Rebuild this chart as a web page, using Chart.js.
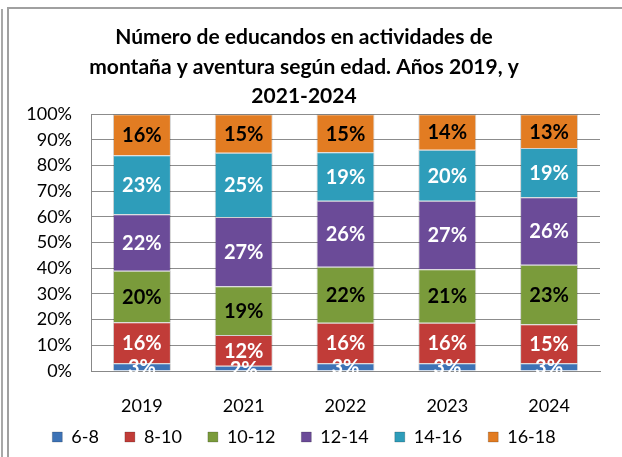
<!DOCTYPE html>
<html>
<head>
<meta charset="utf-8">
<script src="https://cdn.jsdelivr.net/npm/chart.js@4"></script>
<style>
  html, body { margin: 0; padding: 0; background: #fff; }
  #wrap { position: relative; width: 622px; height: 457px; overflow: hidden; }
  #frame { position: absolute; left: 7px; top: 7px; width: 700px; height: 500px; border: 2px solid #a0a0a0; box-sizing: border-box; }
  #edge { position: absolute; left: 1px; top: 9px; width: 2px; height: 460px; background: #a8a8a8; }
  canvas { position: absolute; left: 0; top: 0; }
</style>
</head>
<body>
<div id="wrap">
  <div id="edge"></div>
  <div id="frame"></div>
  <canvas id="chart" width="622" height="457"></canvas>
</div>
<script>
// years on the x axis
var years = ['2019', '2021', '2022', '2023', '2024'];
// age groups, as printed in the legend
var ages = ['6-8', '8-10', '10-12', '12-14', '14-16', '16-18'];
// percentages printed in each segment
var v6_8   = [3, 2, 3, 3, 3];
var v8_10  = [16, 12, 16, 16, 15];
var v10_12 = [20, 19, 22, 21, 23];
var v12_14 = [22, 27, 26, 27, 26];
var v14_16 = [23, 25, 19, 20, 19];
var v16_18 = [16, 15, 15, 14, 13];
var yTicks = ['0%', '10%', '20%', '30%', '40%', '50%', '60%', '70%', '80%', '90%', '100%'];

var series = [v6_8, v8_10, v10_12, v12_14, v14_16, v16_18];
var colors = ['#3d73b6', '#c13c38', '#7a9b3b', '#6b4b98', '#2e9dba', '#e27c22'];
var labelColors = ['#fff', '#fff', '#000', '#fff', '#fff', '#000'];

// 100% stacked: each column scaled so it fills the axis
var totals = years.map(function(y, i) {
    return series.reduce(function(s, arr) { return s + arr[i]; }, 0);
});

var font = 'Lato, "Open Sans", sans-serif';

var segmentLabels = {
    id: 'segmentLabels',
    afterLayout: function(chart) {
        // legend sits closer to the year labels than chart.js leaves room for
        var lg = chart.legend;
        lg.top = 402;
        lg.bottom = chart.height;
    },
    afterDatasetsDraw: function(chart) {
        var ctx = chart.ctx;
        ctx.save();
        ctx.font = 'bold 20px ' + font;
        ctx.textAlign = 'center';
        ctx.textBaseline = 'middle';
        chart.data.datasets.forEach(function(ds, di) {
            chart.getDatasetMeta(di).data.forEach(function(bar, i) {
                var mid = (bar.y + bar.base) / 2;
                ctx.fillStyle = labelColors[di];
                ctx.fillText(series[di][i] + '%', bar.x, mid + 1);
            });
        });
        ctx.restore();
    }
};

var ctx = document.getElementById('chart').getContext('2d');
var chart = new Chart(ctx, {
    type: 'bar',
    data: {
        labels: years,
        datasets: ages.map(function(age, k) {
            return {
                label: age,
                data: series[k].map(function(v, i) { return v / totals[i] * 100; }),
                backgroundColor: colors[k],
                borderColor: 'rgba(0,0,0,0.18)',
                borderWidth: 1,
                categoryPercentage: 1,
                barPercentage: 0.57
            };
        })
    },
    options: {
        responsive: false,
        animation: false,
        layout: { padding: { left: 8, right: 22, top: 8, bottom: 4 } },
        plugins: {
            title: {
                display: true,
                text: ['Número de educandos en actividades de',
                       'montaña y aventura según edad. Años 2019, y',
                       '2021-2024'],
                color: '#000',
                font: { family: font, size: 21, weight: 'bold', lineHeight: 1.4 },
                padding: { top: 15, bottom: 3 }
            },
            legend: {
                position: 'bottom',
                maxHeight: 36,
                labels: {
                    color: '#000',
                    font: { family: font, size: 18 },
                    boxWidth: 10,
                    boxHeight: 10,
                    padding: 26
                }
            },
            tooltip: { enabled: false }
        },
        scales: {
            x: {
                stacked: true,
                afterFit: function(scale) { scale.height = 46; },
                grid: { display: false, drawTicks: false },
                border: { color: '#888' },
                ticks: { color: '#000', font: { family: font, size: 18 }, padding: 24 }
            },
            y: {
                stacked: true,
                min: 0,
                max: 100,
                afterFit: function(scale) { scale.width = 83; },
                grid: { color: '#8c8c8c', lineWidth: 1, drawTicks: false },
                border: { color: '#888' },
                ticks: {
                    stepSize: 10,
                    autoSkip: false,
                    color: '#000',
                    padding: 19,
                    font: { family: font, size: 18 },
                    callback: function(v) { return yTicks[Math.round(v / 10)]; }
                }
            }
        }
    },
    plugins: [segmentLabels]
});
</script>
</body>
</html>
